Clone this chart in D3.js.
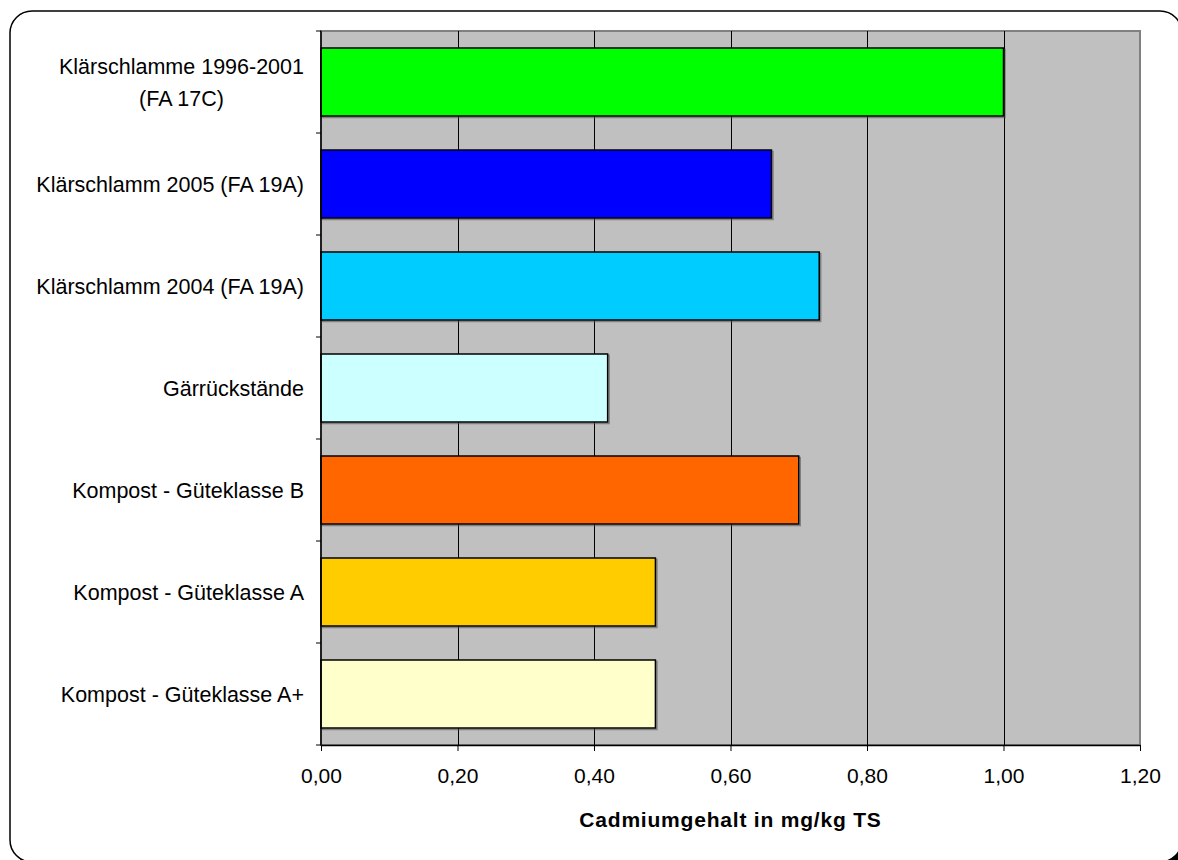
<!DOCTYPE html>
<html>
<head>
<meta charset="utf-8">
<script src="https://cdn.jsdelivr.net/npm/d3@7"></script>
<style>
  body { margin: 0; background: #fff; }
  text { font-family: "Liberation Sans", Arial, sans-serif; }
</style>
</head>
<body>
<div id="chart"></div>
<script>
// categories top to bottom, multi-line labels split with "|"
var categories = [
    "Klärschlamme 1996-2001|(FA 17C)",
    "Klärschlamm 2005 (FA 19A)",
    "Klärschlamm 2004 (FA 19A)",
    "Gärrückstände",
    "Kompost - Güteklasse B",
    "Kompost - Güteklasse A",
    "Kompost - Güteklasse A+"
];
var values = [1.00, 0.66, 0.73, 0.42, 0.70, 0.49, 0.49];
var barColors = ["#00ff00", "#0000ff", "#00ccff", "#ccffff", "#ff6600", "#ffcc00", "#ffffcc"];
var xTicks = [0, 0.2, 0.4, 0.6, 0.8, 1.0, 1.2];
var xTitle = "Cadmiumgehalt in mg/kg TS";

var W = 1178, H = 860;
var plot = {left: 321, right: 1140, top: 31, bottom: 745};

var svg = d3.select("#chart").append("svg")
    .attr("width", W)
    .attr("height", H);

// outer rounded frame with shadow (runs off the right and bottom edge)
svg.append("rect")
    .attr("x", 15).attr("y", 16)
    .attr("width", 1172).attr("height", 851)
    .attr("rx", 22).attr("ry", 22)
    .attr("fill", "#000");
svg.append("rect")
    .attr("x", 10).attr("y", 11)
    .attr("width", 1172).attr("height", 851)
    .attr("rx", 22).attr("ry", 22)
    .attr("fill", "#fff")
    .attr("stroke", "#000")
    .attr("stroke-width", 1.5);

var x = d3.scaleLinear()
    .domain([0, 1.2])
    .range([plot.left, plot.right]);

var y = d3.scaleBand()
    .domain(categories)
    .range([plot.top, plot.bottom])
    .paddingInner(1 / 3)
    .paddingOuter(1 / 6);

// plot background
svg.append("rect")
    .attr("x", plot.left).attr("y", plot.top)
    .attr("width", plot.right - plot.left)
    .attr("height", plot.bottom - plot.top)
    .attr("fill", "#c0c0c0")
    .attr("stroke", "#808080")
    .attr("stroke-width", 2);

// gridlines
svg.append("g")
    .selectAll("line")
    .data(xTicks.slice(1, -1))
    .enter().append("line")
    .attr("x1", function(d) { return Math.round(x(d)) + 0.5; })
    .attr("x2", function(d) { return Math.round(x(d)) + 0.5; })
    .attr("y1", plot.top)
    .attr("y2", plot.bottom)
    .attr("stroke", "#000")
    .attr("stroke-width", 1);

// bars (shadow then bar)
var bars = svg.append("g");
bars.selectAll(".shadow")
    .data(values)
    .enter().append("rect")
    .attr("class", "shadow")
    .attr("x", x(0) + 1.5)
    .attr("y", function(d, i) { return y(categories[i]) + 1.5; })
    .attr("width", function(d) { return x(d) - x(0); })
    .attr("height", y.bandwidth())
    .attr("fill", "none")
    .attr("stroke", "#555")
    .attr("stroke-opacity", 0.6)
    .attr("stroke-width", 1.5);
bars.selectAll(".bar")
    .data(values)
    .enter().append("rect")
    .attr("class", "bar")
    .attr("x", x(0))
    .attr("y", function(d, i) { return y(categories[i]); })
    .attr("width", function(d) { return x(d) - x(0); })
    .attr("height", y.bandwidth())
    .attr("fill", function(d, i) { return barColors[i]; })
    .attr("stroke", "#000")
    .attr("stroke-width", 1.5);

// x axis
var xAxis = d3.axisBottom(x)
    .tickValues(xTicks)
    .tickSize(6)
    .tickSizeOuter(0)
    .tickFormat(function(d) { return d3.format(".2f")(d).replace(".", ","); });

var gx = svg.append("g")
    .attr("transform", "translate(0," + plot.bottom + ")")
    .call(xAxis);
gx.select(".domain").attr("stroke", "#000").attr("stroke-width", 1.5);
gx.selectAll(".tick line").attr("stroke", "#000");
gx.selectAll(".tick text")
    .attr("y", 23)
    .attr("dy", "0.71em")
    .style("font-size", "21px")
    .attr("fill", "#000");

// y axis line + ticks at band boundaries
svg.append("line")
    .attr("x1", plot.left).attr("x2", plot.left)
    .attr("y1", plot.top).attr("y2", plot.bottom)
    .attr("stroke", "#000").attr("stroke-width", 1.5);

var boundaries = d3.range(categories.length + 1).map(function(i) {
    return plot.top + i * y.step();
});
svg.append("g")
    .selectAll("line")
    .data(boundaries)
    .enter().append("line")
    .attr("x1", plot.left - 5)
    .attr("x2", plot.left)
    .attr("y1", function(d) { return d; })
    .attr("y2", function(d) { return d; })
    .attr("stroke", "#000");

// category labels: block right aligned, lines centered within the block
var labelRight = 304, lineH = 32;
categories.forEach(function(c, i) {
    var lines = c.split("|");
    var cy = y(c) + y.bandwidth() / 2;
    var g = svg.append("g");
    var texts = lines.map(function(l, j) {
        return g.append("text")
            .attr("y", cy + (j - (lines.length - 1) / 2) * lineH)
            .attr("dy", "0.35em")
            .attr("text-anchor", "middle")
            .style("font-size", "21.5px")
            .attr("fill", "#000")
            .text(l);
    });
    var maxW = d3.max(texts, function(t) { return t.node().getComputedTextLength(); });
    texts.forEach(function(t) { t.attr("x", labelRight - maxW / 2); });
});

// axis title
svg.append("text")
    .attr("x", (plot.left + plot.right) / 2)
    .attr("y", 827)
    .attr("text-anchor", "middle")
    .style("font-size", "21px")
    .style("font-weight", "bold")
    .style("letter-spacing", "0.8px")
    .text(xTitle);
</script>
</body>
</html>
